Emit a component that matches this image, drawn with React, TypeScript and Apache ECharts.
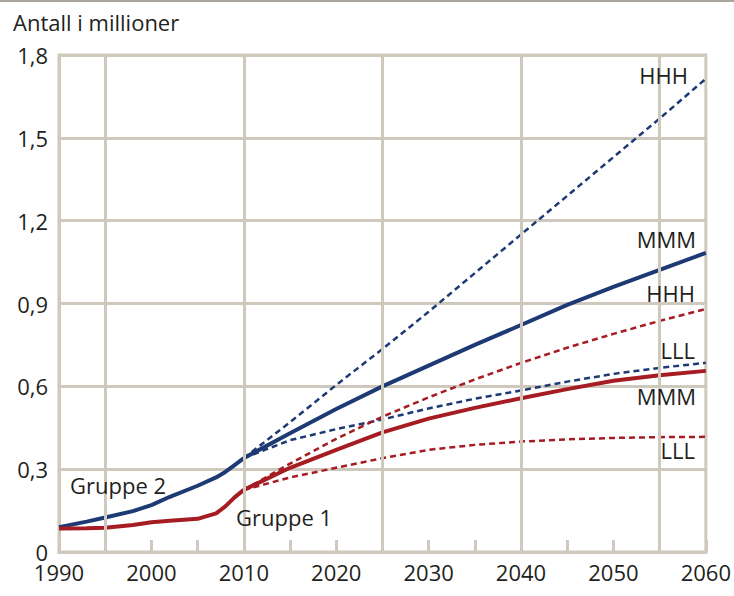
import React, { useEffect, useRef } from "react";
import * as echarts from "echarts";

// ---- Data ----
const histYears = [1990, 1993, 1995, 1998, 2000, 2002, 2005, 2007, 2008, 2009, 2010];
const gruppe2Hist = [0.09, 0.11, 0.125, 0.148, 0.17, 0.2, 0.24, 0.27, 0.29, 0.315, 0.34];
const gruppe1Hist = [0.085, 0.086, 0.088, 0.098, 0.108, 0.113, 0.12, 0.14, 0.165, 0.198, 0.225];

const projYears = [2010, 2015, 2020, 2025, 2030, 2035, 2040, 2045, 2050, 2055, 2060];
const gruppe2HHH = [0.34, 0.47, 0.605, 0.735, 0.87, 1.01, 1.15, 1.29, 1.43, 1.57, 1.714];
const gruppe2MMM = [0.34, 0.43, 0.518, 0.6, 0.675, 0.75, 0.822, 0.895, 0.96, 1.022, 1.083];
const gruppe2LLL = [0.34, 0.405, 0.445, 0.48, 0.52, 0.555, 0.585, 0.617, 0.645, 0.667, 0.685];
const gruppe1HHH = [0.225, 0.32, 0.41, 0.49, 0.56, 0.625, 0.685, 0.74, 0.79, 0.837, 0.88];
const gruppe1MMM = [0.225, 0.305, 0.37, 0.433, 0.483, 0.522, 0.557, 0.59, 0.62, 0.64, 0.656];
const gruppe1LLL = [0.225, 0.27, 0.305, 0.34, 0.37, 0.388, 0.4, 0.408, 0.413, 0.416, 0.417];

const gridYears = [1995, 2010, 2025, 2040, 2055];

const pairs = (xs: number[], ys: number[]) => xs.map((x, i) => [x, ys[i]]);

const BLUE = "#1d3a74";
const RED = "#a51c22";
const GRID = "#cfc9bd";
const TEXT = "#231f20";
const FONT = "'Open Sans', sans-serif";
const FS = 22;

export default function App() {
  const ref = useRef<HTMLDivElement>(null);
  useEffect(() => {
    document.body.style.margin = "0";
    const chart = echarts.init(ref.current!, null, { renderer: "svg" });
    const solid = (name: string, data: number[][], color: string) => ({
      name,
      type: "line",
      data,
      symbol: "none",
      z: 3,
      lineStyle: { color, width: 4, type: "solid" },
    });
    const dashed = (name: string, data: number[][], color: string) => ({
      name,
      type: "line",
      data,
      symbol: "none",
      z: 3,
      lineStyle: { color, width: 2.5, type: [6, 4] },
    });
    const textEl = (text: string, x: number, y: number, align: string) => ({
      type: "text",
      x,
      y,
      z: 100,
      style: { text, fill: TEXT, font: `${FS}px ${FONT}`, align, verticalAlign: "middle" },
    });
    chart.setOption({
      animation: false,
      grid: {
        left: 59,
        right: 25,
        top: 55,
        bottom: 44,
        show: true,
        borderColor: GRID,
        borderWidth: 3,
        containLabel: false,
      },
      xAxis: {
        type: "value",
        min: 1990,
        max: 2060,
        interval: 5,
        axisLine: { show: true, lineStyle: { color: GRID, width: 3 } },
        axisTick: { show: true, inside: true, length: 12, lineStyle: { color: GRID, width: 3 } },
        splitLine: { show: false },
        axisLabel: {
          color: TEXT,
          fontFamily: FONT,
          fontSize: FS,
          margin: 9,
          formatter: (v: number) => (v % 10 === 0 ? String(v) : ""),
        },
      },
      yAxis: {
        type: "value",
        min: 0,
        max: 1.8,
        interval: 0.3,
        axisLine: { show: true, lineStyle: { color: GRID, width: 3 } },
        axisTick: { show: false },
        splitLine: { show: true, lineStyle: { color: GRID, width: 3 } },
        axisLabel: {
          color: TEXT,
          fontFamily: FONT,
          fontSize: FS,
          margin: 11,
          formatter: (v: number) => (v === 0 ? "0" : v.toFixed(1).replace(".", ",")),
        },
      },
      series: [
        {
          type: "line",
          data: [[1990, 0]],
          symbol: "none",
          lineStyle: { opacity: 0 },
          z: 1,
          silent: true,
          markLine: {
            silent: true,
            symbol: "none",
            label: { show: false },
            lineStyle: { color: GRID, width: 3, type: "solid" },
            data: gridYears.map((y) => ({ xAxis: y })),
          },
        },
        dashed("Gruppe 2 HHH", pairs(projYears, gruppe2HHH), BLUE),
        dashed("Gruppe 2 LLL", pairs(projYears, gruppe2LLL), BLUE),
        dashed("Gruppe 1 HHH", pairs(projYears, gruppe1HHH), RED),
        dashed("Gruppe 1 LLL", pairs(projYears, gruppe1LLL), RED),
        solid("Gruppe 2", pairs(histYears, gruppe2Hist), BLUE),
        solid("Gruppe 2 MMM", pairs(projYears, gruppe2MMM), BLUE),
        solid("Gruppe 1", pairs(histYears, gruppe1Hist), RED),
        solid("Gruppe 1 MMM", pairs(projYears, gruppe1MMM), RED),
      ],
      graphic: [
        {
          type: "line",
          z: 100,
          shape: { x1: 0, y1: 1, x2: 734, y2: 1 },
          style: { stroke: "#a9a59e", lineWidth: 2 },
        },
        textEl("Antall i millioner", 13, 22, "left"),
        textEl("HHH", 688, 75, "right"),
        textEl("MMM", 696, 239, "right"),
        textEl("HHH", 695, 293, "right"),
        textEl("LLL", 695, 350, "right"),
        textEl("MMM", 696, 396, "right"),
        textEl("LLL", 695, 450, "right"),
        textEl("Gruppe 2", 70, 485, "left"),
        textEl("Gruppe 1", 236, 517, "left"),
      ],
    });
    return () => chart.dispose();
  }, []);
  return (
    <div
      ref={ref}
      style={{ position: "absolute", left: 0, top: 0, width: 734, height: 596 }}
    />
  );
}
